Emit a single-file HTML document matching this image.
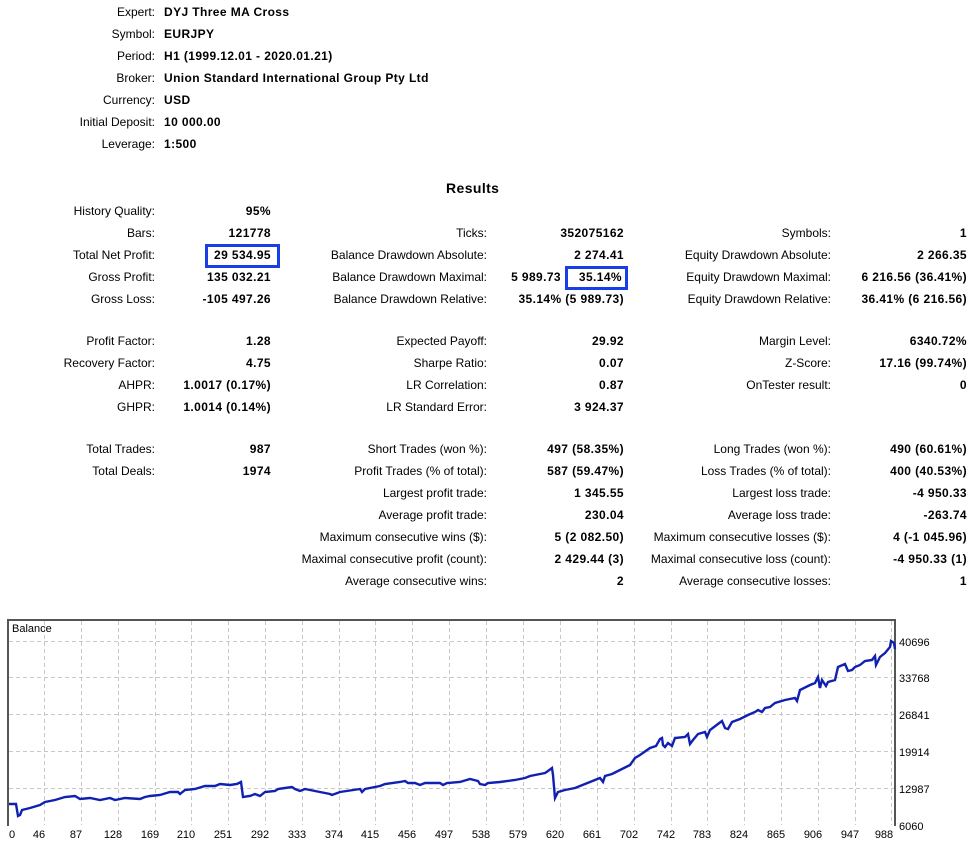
<!DOCTYPE html>
<html><head><meta charset="utf-8"><style>
body{margin:0;width:977px;height:844px;background:#fff;position:relative;overflow:hidden;font-family:"Liberation Sans",sans-serif;font-size:12px;color:#000}
.t{position:absolute;white-space:nowrap;line-height:14px}
.r{text-align:right}
.b{font-weight:bold;letter-spacing:0.4px}
.box{position:absolute;border:3px solid #1a3ee6;box-sizing:border-box}
</style></head><body>
<!-- header -->
<div class="t r" style="right:822px;top:5px">Expert:</div><div class="t b" style="left:164px;top:5px">DYJ Three MA Cross</div>
<div class="t r" style="right:822px;top:27px">Symbol:</div><div class="t b" style="left:164px;top:27px">EURJPY</div>
<div class="t r" style="right:822px;top:49px">Period:</div><div class="t b" style="left:164px;top:49px">H1 (1999.12.01 - 2020.01.21)</div>
<div class="t r" style="right:822px;top:71px">Broker:</div><div class="t b" style="left:164px;top:71px">Union Standard International Group Pty Ltd</div>
<div class="t r" style="right:822px;top:93px">Currency:</div><div class="t b" style="left:164px;top:93px">USD</div>
<div class="t r" style="right:822px;top:115px">Initial Deposit:</div><div class="t b" style="left:164px;top:115px">10 000.00</div>
<div class="t r" style="right:822px;top:137px">Leverage:</div><div class="t b" style="left:164px;top:137px">1:500</div>
<div class="t b" style="left:446px;top:180px;font-size:14px;line-height:16px">Results</div>

<!-- col1 -->
<div class="t r" style="right:822px;top:204px">History Quality:</div><div class="t r b" style="right:706px;top:204px">95%</div>
<div class="t r" style="right:822px;top:226px">Bars:</div><div class="t r b" style="right:706px;top:226px">121778</div>
<div class="t r" style="right:822px;top:248px">Total Net Profit:</div><div class="t r b" style="right:706px;top:248px">29 534.95</div>
<div class="t r" style="right:822px;top:270px">Gross Profit:</div><div class="t r b" style="right:706px;top:270px">135 032.21</div>
<div class="t r" style="right:822px;top:292px">Gross Loss:</div><div class="t r b" style="right:706px;top:292px">-105 497.26</div>
<div class="t r" style="right:822px;top:334px">Profit Factor:</div><div class="t r b" style="right:706px;top:334px">1.28</div>
<div class="t r" style="right:822px;top:356px">Recovery Factor:</div><div class="t r b" style="right:706px;top:356px">4.75</div>
<div class="t r" style="right:822px;top:378px">AHPR:</div><div class="t r b" style="right:706px;top:378px">1.0017 (0.17%)</div>
<div class="t r" style="right:822px;top:400px">GHPR:</div><div class="t r b" style="right:706px;top:400px">1.0014 (0.14%)</div>
<div class="t r" style="right:822px;top:442px">Total Trades:</div><div class="t r b" style="right:706px;top:442px">987</div>
<div class="t r" style="right:822px;top:464px">Total Deals:</div><div class="t r b" style="right:706px;top:464px">1974</div>

<!-- col2 -->
<div class="t r" style="right:490px;top:226px">Ticks:</div><div class="t r b" style="right:353px;top:226px">352075162</div>
<div class="t r" style="right:490px;top:248px">Balance Drawdown Absolute:</div><div class="t r b" style="right:353px;top:248px">2 274.41</div>
<div class="t r" style="right:490px;top:270px">Balance Drawdown Maximal:</div><div class="t r b" style="right:416px;top:270px">5 989.73</div><div class="t r b" style="right:355px;top:270px">35.14%</div>
<div class="t r" style="right:490px;top:292px">Balance Drawdown Relative:</div><div class="t r b" style="right:353px;top:292px">35.14% (5 989.73)</div>
<div class="t r" style="right:490px;top:334px">Expected Payoff:</div><div class="t r b" style="right:353px;top:334px">29.92</div>
<div class="t r" style="right:490px;top:356px">Sharpe Ratio:</div><div class="t r b" style="right:353px;top:356px">0.07</div>
<div class="t r" style="right:490px;top:378px">LR Correlation:</div><div class="t r b" style="right:353px;top:378px">0.87</div>
<div class="t r" style="right:490px;top:400px">LR Standard Error:</div><div class="t r b" style="right:353px;top:400px">3 924.37</div>
<div class="t r" style="right:490px;top:442px">Short Trades (won %):</div><div class="t r b" style="right:353px;top:442px">497 (58.35%)</div>
<div class="t r" style="right:490px;top:464px">Profit Trades (% of total):</div><div class="t r b" style="right:353px;top:464px">587 (59.47%)</div>
<div class="t r" style="right:490px;top:486px">Largest profit trade:</div><div class="t r b" style="right:353px;top:486px">1 345.55</div>
<div class="t r" style="right:490px;top:508px">Average profit trade:</div><div class="t r b" style="right:353px;top:508px">230.04</div>
<div class="t r" style="right:490px;top:530px">Maximum consecutive wins ($):</div><div class="t r b" style="right:353px;top:530px">5 (2 082.50)</div>
<div class="t r" style="right:490px;top:552px">Maximal consecutive profit (count):</div><div class="t r b" style="right:353px;top:552px">2 429.44 (3)</div>
<div class="t r" style="right:490px;top:574px">Average consecutive wins:</div><div class="t r b" style="right:353px;top:574px">2</div>

<!-- col3 -->
<div class="t r" style="right:146px;top:226px">Symbols:</div><div class="t r b" style="right:10px;top:226px">1</div>
<div class="t r" style="right:146px;top:248px">Equity Drawdown Absolute:</div><div class="t r b" style="right:10px;top:248px">2 266.35</div>
<div class="t r" style="right:146px;top:270px">Equity Drawdown Maximal:</div><div class="t r b" style="right:10px;top:270px">6 216.56 (36.41%)</div>
<div class="t r" style="right:146px;top:292px">Equity Drawdown Relative:</div><div class="t r b" style="right:10px;top:292px">36.41% (6 216.56)</div>
<div class="t r" style="right:146px;top:334px">Margin Level:</div><div class="t r b" style="right:10px;top:334px">6340.72%</div>
<div class="t r" style="right:146px;top:356px">Z-Score:</div><div class="t r b" style="right:10px;top:356px">17.16 (99.74%)</div>
<div class="t r" style="right:146px;top:378px">OnTester result:</div><div class="t r b" style="right:10px;top:378px">0</div>
<div class="t r" style="right:146px;top:442px">Long Trades (won %):</div><div class="t r b" style="right:10px;top:442px">490 (60.61%)</div>
<div class="t r" style="right:146px;top:464px">Loss Trades (% of total):</div><div class="t r b" style="right:10px;top:464px">400 (40.53%)</div>
<div class="t r" style="right:146px;top:486px">Largest loss trade:</div><div class="t r b" style="right:10px;top:486px">-4 950.33</div>
<div class="t r" style="right:146px;top:508px">Average loss trade:</div><div class="t r b" style="right:10px;top:508px">-263.74</div>
<div class="t r" style="right:146px;top:530px">Maximum consecutive losses ($):</div><div class="t r b" style="right:10px;top:530px">4 (-1 045.96)</div>
<div class="t r" style="right:146px;top:552px">Maximal consecutive loss (count):</div><div class="t r b" style="right:10px;top:552px">-4 950.33 (1)</div>
<div class="t r" style="right:146px;top:574px">Average consecutive losses:</div><div class="t r b" style="right:10px;top:574px">1</div>

<div class="box" style="left:205px;top:244px;width:75px;height:24px"></div>
<div class="box" style="left:565px;top:266px;width:63px;height:24px"></div>

<!-- chart -->
<svg style="position:absolute;left:0;top:0" width="977" height="844">
<g stroke="#c8c8c8" stroke-width="1" stroke-dasharray="4,3" fill="none">
<line x1="9" y1="641.5" x2="895" y2="641.5"/><line x1="9" y1="677.5" x2="895" y2="677.5"/><line x1="9" y1="714.5" x2="895" y2="714.5"/><line x1="9" y1="751.5" x2="895" y2="751.5"/><line x1="9" y1="788.5" x2="895" y2="788.5"/>
<line x1="44.5" y1="621" x2="44.5" y2="825"/><line x1="81.5" y1="621" x2="81.5" y2="825"/><line x1="118.5" y1="621" x2="118.5" y2="825"/><line x1="155.5" y1="621" x2="155.5" y2="825"/><line x1="191.5" y1="621" x2="191.5" y2="825"/><line x1="228.5" y1="621" x2="228.5" y2="825"/><line x1="265.5" y1="621" x2="265.5" y2="825"/><line x1="302.5" y1="621" x2="302.5" y2="825"/><line x1="339.5" y1="621" x2="339.5" y2="825"/><line x1="375.5" y1="621" x2="375.5" y2="825"/><line x1="412.5" y1="621" x2="412.5" y2="825"/><line x1="449.5" y1="621" x2="449.5" y2="825"/><line x1="486.5" y1="621" x2="486.5" y2="825"/><line x1="523.5" y1="621" x2="523.5" y2="825"/><line x1="560.5" y1="621" x2="560.5" y2="825"/><line x1="597.5" y1="621" x2="597.5" y2="825"/><line x1="634.5" y1="621" x2="634.5" y2="825"/><line x1="671.5" y1="621" x2="671.5" y2="825"/><line x1="707.5" y1="621" x2="707.5" y2="825"/><line x1="744.5" y1="621" x2="744.5" y2="825"/><line x1="781.5" y1="621" x2="781.5" y2="825"/><line x1="818.5" y1="621" x2="818.5" y2="825"/><line x1="855.5" y1="621" x2="855.5" y2="825"/><line x1="891.5" y1="621" x2="891.5" y2="825"/>
</g>
<path d="M8,826 V620 H895 V826" fill="none" stroke="#555" stroke-width="2"/>
<polyline fill="none" stroke="#1020b0" stroke-width="2.4" stroke-linejoin="miter" points="9,804 16,804 18,816 20,815 22,810 30,808 40,805 45,802 55,800 65,797 75,796 80,799 90,798 100,800 110,798 115,800 125,798 140,799 145,797 150,796 160,795 170,792 178,792 180,794 185,790 195,789 205,786 215,786 220,784 230,785 237,784 241,782 243,797 250,796 255,794 260,796 265,792 275,791 278,789 285,788 292,787 295,789 300,791 305,789 320,792 330,794 332,795 340,792 360,789 362,792 365,789 380,786 385,784 400,782 405,781 408,783 415,783 420,785 425,783 440,783 443,785 447,783 460,782 470,779 478,781 480,784 485,785 488,783 500,782 515,780 525,778 530,776 545,773 548,771 552,768 553,775 555,798 558,792 565,790 575,788 580,786 590,782 600,778 603,782 605,776 612,774 620,770 630,765 635,758 640,755 650,748 656,746 660,739 662,738 663,745 665,747 668,743 672,746 675,738 685,737 688,734 690,744 693,740 698,734 705,732 707,737 710,730 718,724 722,721 725,728 728,729 732,722 740,719 748,715 755,712 758,710 762,712 765,708 770,707 775,703 785,700 795,698 797,701 800,690 810,685 815,683 818,677 820,688 822,680 826,686 828,682 835,680 838,667 845,664 848,671 852,670 855,667 860,665 865,661 872,660 875,656 876,665 880,657 885,653 890,647 891,641 894,643 895,649"/>
<g font-family="Liberation Sans, sans-serif" font-size="11" fill="#000">
<text x="12" y="632">Balance</text>
<text x="899" y="646">40696</text><text x="899" y="682">33768</text><text x="899" y="719">26841</text><text x="899" y="756">19914</text><text x="899" y="793">12987</text><text x="899" y="830">6060</text>
</g>
<g font-family="Liberation Sans, sans-serif" font-size="11" fill="#000" text-anchor="middle">
<text x="12" y="838">0</text><text x="39" y="838">46</text><text x="76" y="838">87</text><text x="113" y="838">128</text><text x="150" y="838">169</text><text x="186" y="838">210</text><text x="223" y="838">251</text><text x="260" y="838">292</text><text x="297" y="838">333</text><text x="334" y="838">374</text><text x="370" y="838">415</text><text x="407" y="838">456</text><text x="444" y="838">497</text><text x="481" y="838">538</text><text x="518" y="838">579</text><text x="555" y="838">620</text><text x="592" y="838">661</text><text x="629" y="838">702</text><text x="666" y="838">742</text><text x="702" y="838">783</text><text x="739" y="838">824</text><text x="776" y="838">865</text><text x="813" y="838">906</text><text x="850" y="838">947</text><text x="884" y="838">988</text>
</g>
</svg>
</body></html>
